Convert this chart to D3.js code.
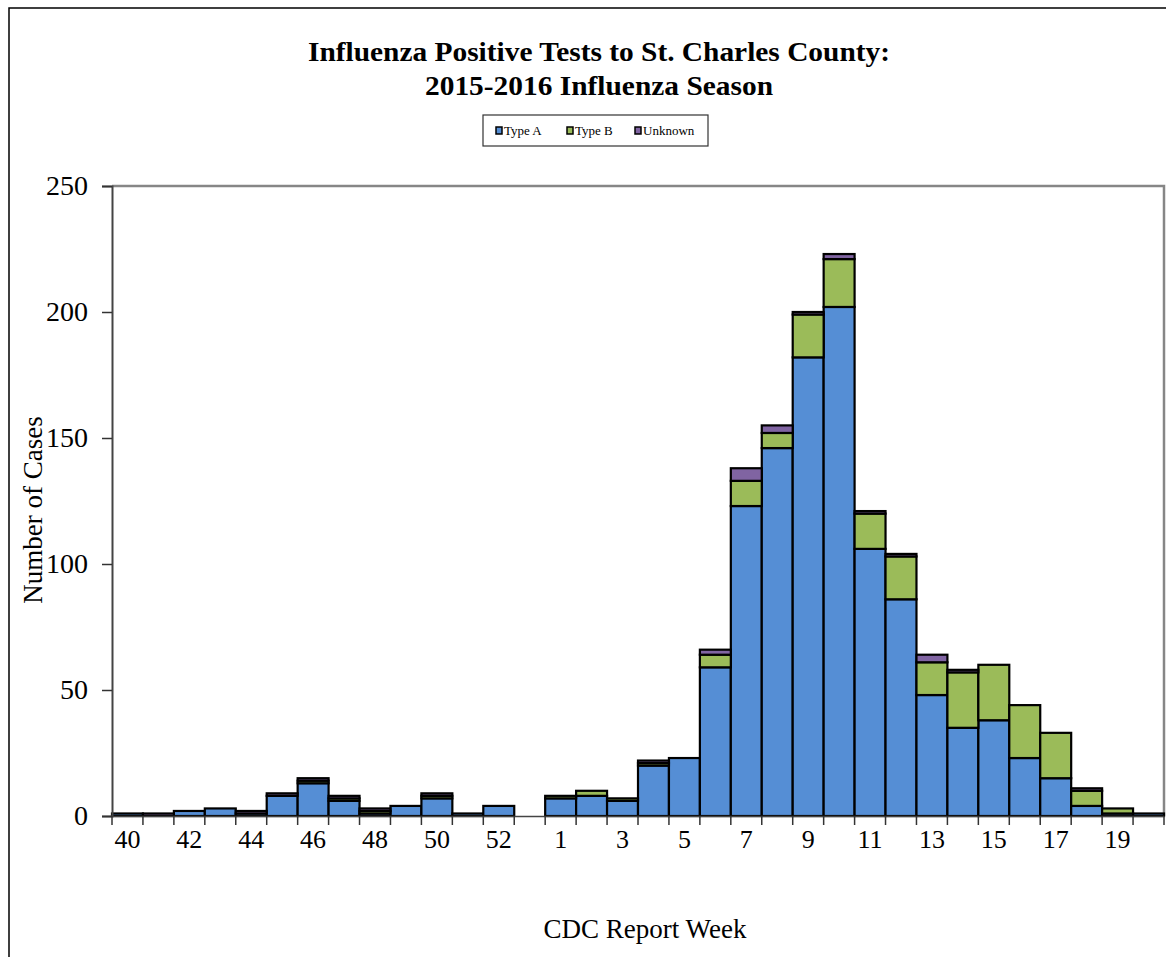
<!DOCTYPE html>
<html>
<head>
<meta charset="utf-8">
<script src="https://cdn.jsdelivr.net/npm/d3@7"></script>
<style>
  body { margin: 0; background: #fff; }
  svg { display: block; font-family: "Liberation Serif", "Times New Roman", serif; }
</style>
</head>
<body>
<div id="chart"></div>
<script>
// CDC report weeks, 2015 season has a week 53
const weeks = ["40", "41", "42", "43", "44", "45", "46", "47", "48", "49", "50", "51", "52", "53",
  "1", "2", "3", "4", "5", "6", "7", "8", "9", "10", "11", "12", "13", "14", "15", "16", "17", "18", "19", "20"];
const typeA = [1, 0, 2, 3, 1, 8, 13, 6, 1, 4, 7, 1, 4, 0,
  7, 8, 6, 20, 23, 59, 123, 146, 182, 202, 106, 86, 48, 35, 38, 23, 15, 4, 1, 1];
const typeB = [0, 0, 0, 0, 0, 0, 1, 1, 1, 0, 1, 0, 0, 0,
  1, 2, 1, 1, 0, 5, 10, 6, 17, 19, 14, 17, 13, 22, 22, 21, 18, 6, 2, 0];
const unknown = [0, 1, 0, 0, 1, 1, 1, 1, 1, 0, 1, 0, 0, 0,
  0, 0, 0, 1, 0, 2, 5, 3, 1, 2, 1, 1, 3, 1, 0, 0, 0, 1, 0, 0];
const seriesNames = ["Type A", "Type B", "Unknown"];
const seriesColors = ["#558ED5", "#9BBB59", "#8064A2"];
const yTicks = [0, 50, 100, 150, 200, 250];

const width = 1166;
const height = 957;
const marginLeft = 112;
const marginRight = 2;
const marginTop = 186;
const marginBottom = 141;

const rows = weeks.map((w, i) => ({ week: w, "Type A": typeA[i], "Type B": typeB[i], "Unknown": unknown[i] }));
const series = d3.stack().keys(seriesNames)(rows);

const x = d3.scaleBand().domain(weeks).range([marginLeft, width - marginRight]).padding(0);
const y = d3.scaleLinear().domain([0, 250]).range([height - marginBottom, marginTop]);
const color = d3.scaleOrdinal(seriesNames, seriesColors);

const svg = d3.select("#chart")
  .append("svg")
  .attr("width", width)
  .attr("height", height)
  .attr("viewBox", [0, 0, width, height]);

// outer frame (runs off the right and bottom of the picture)
svg.append("rect")
  .attr("x", 9).attr("y", 8)
  .attr("width", width + 20).attr("height", height + 20)
  .attr("fill", "none").attr("stroke", "#000").attr("stroke-width", 1.5);

// title
svg.append("g")
  .attr("font-weight", "bold")
  .attr("font-size", 28)
  .attr("font-family", "Liberation Serif")
  .attr("text-anchor", "middle")
  .selectAll("text")
  .data([["Influenza Positive Tests to St. Charles County:", 61, 582], ["2015-2016 Influenza Season", 95, 348]])
  .join("text")
  .attr("x", 599)
  .attr("y", (d) => d[1])
  .attr("textLength", (d) => d[2])
  .attr("lengthAdjust", "spacingAndGlyphs")
  .text((d) => d[0]);

// legend
const legend = svg.append("g").attr("transform", "translate(483,115)");
legend.append("rect")
  .attr("width", 225).attr("height", 31)
  .attr("fill", "#fff").attr("stroke", "#333").attr("stroke-width", 1.2);
const legendX = [13, 84, 152];
const item = legend.selectAll("g.item")
  .data(seriesNames)
  .join("g")
  .attr("class", "item")
  .attr("transform", (d, i) => `translate(${legendX[i]},0)`);
item.append("rect")
  .attr("x", 0).attr("y", 12).attr("width", 6).attr("height", 7)
  .attr("fill", (d) => color(d)).attr("stroke", "#000").attr("stroke-width", 1.5);
item.append("text")
  .attr("x", 8).attr("y", 19.5)
  .attr("font-size", 13)
  .attr("font-family", "Liberation Serif")
  .text((d) => d);

// plot frame: grey top and right edges
svg.append("path")
  .attr("d", `M${marginLeft},${marginTop}H${width - marginRight}V${height - marginBottom}`)
  .attr("fill", "none").attr("stroke", "#868686").attr("stroke-width", 2.5);

// bars
svg.append("g")
  .selectAll("g")
  .data(series)
  .join("g")
  .attr("fill", (d) => color(d.key))
  .selectAll("rect")
  .data((d) => d.filter((s) => s[1] - s[0] > 0))
  .join("rect")
  .attr("x", (d) => x(d.data.week))
  .attr("y", (d) => y(d[1]))
  .attr("width", x.bandwidth())
  .attr("height", (d) => y(d[0]) - y(d[1]))
  .attr("stroke", "#000")
  .attr("stroke-width", 2.2);

// y axis
svg.append("g")
  .attr("transform", `translate(${marginLeft},0)`)
  .call(d3.axisLeft(y).tickValues(yTicks).tickSize(10).tickPadding(14))
  .call((g) => g.select(".domain").attr("stroke", "#444").attr("stroke-width", 2))
  .call((g) => g.selectAll(".tick line").attr("stroke", "#333").attr("stroke-width", 1.5))
  .call((g) => g.selectAll(".tick text").attr("font-size", 28).attr("fill", "#000").attr("font-family", "Liberation Serif"));

// x axis: labels on every other week, ticks on the bar edges
svg.append("g")
  .attr("transform", `translate(0,${height - marginBottom})`)
  .call(d3.axisBottom(x).tickSize(0).tickPadding(14).tickFormat((d, i) => (i % 2 === 0 ? d : "")))
  .call((g) => g.select(".domain").attr("stroke", "#444").attr("stroke-width", 1.5))
  .call((g) => g.selectAll(".tick text").attr("font-size", 26).attr("fill", "#000").attr("font-family", "Liberation Serif"))
  .call((g) =>
    g.append("g")
      .selectAll("line")
      .data(weeks.map((w) => x(w)).concat([x.range()[1]]))
      .join("line")
      .attr("x1", (d) => d).attr("x2", (d) => d)
      .attr("y1", 0).attr("y2", 9)
      .attr("stroke", "#333").attr("stroke-width", 1.5)
  );

// axis titles
svg.append("text")
  .attr("x", 645).attr("y", 938)
  .attr("text-anchor", "middle")
  .attr("font-size", 27)
  .text("CDC Report Week");

svg.append("text")
  .attr("transform", "translate(42,510) rotate(-90)")
  .attr("text-anchor", "middle")
  .attr("font-size", 27)
  .text("Number of Cases");
</script>
</body>
</html>
